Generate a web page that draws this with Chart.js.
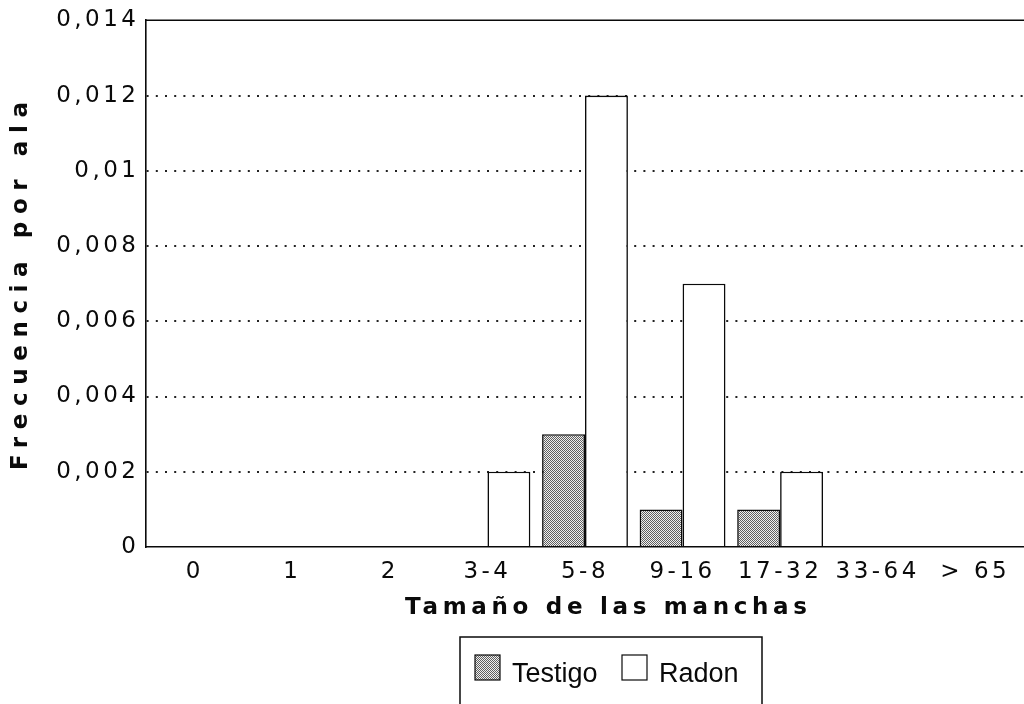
<!DOCTYPE html>
<html>
<head>
<meta charset="utf-8">
<script src="https://cdn.jsdelivr.net/npm/chart.js@4.4.1/dist/chart.umd.min.js"></script>
<style>
html,body{margin:0;padding:0;background:#fff;}
#wrap{width:1024px;height:704px;}
canvas{display:block;}
</style>
</head>
<body>
<div id="wrap"><canvas id="c" width="1024" height="704"></canvas></div>
<script>
// ---- data ----
const categories = ['0', '1', '2', '3-4', '5-8', '9-16', '17-32', '33-64', '> 65'];
const testigo = [0, 0, 0, 0, 0.003, 0.001, 0.001, 0, 0];
const radon   = [0, 0, 0, 0.002, 0.012, 0.007, 0.002, 0, 0];
const seriesNames = ['Testigo', 'Radon'];
const yMin = 0, yMax = 0.014, yStep = 0.002;
const xTitle = 'Tamaño de las manchas';
const yTitle = 'Frecuencia por ala';

const FONT = '"DejaVu Sans", "Liberation Sans", Arial, sans-serif';
const LEGEND_FONT = '"Liberation Sans", Arial, Helvetica, sans-serif';
const INK = '#0a0a0a';
const TICK_LS = 3.5;

function fmt(v) {
  const n = Number(Number(v).toFixed(4));
  return String(n).replace('.', ',');
}

function makePattern(ctx) {
  const c = document.createElement('canvas');
  c.width = 4; c.height = 4;
  const g = c.getContext('2d');
  g.fillStyle = '#f0f0f0';
  g.fillRect(0, 0, 4, 4);
  g.fillStyle = '#606060';
  for (let y = 0; y < 4; y++) for (let x = 0; x < 4; x++) if ((x + y) % 2 === 0) g.fillRect(x, y, 1, 1);
  return ctx.createPattern(c, 'repeat');
}

const canvas = document.getElementById('c');
const ctx2d = canvas.getContext('2d');
const hatch = makePattern(ctx2d);

// draw text spread so that it spans a given width, centred on (cx, cy)
function spreadText(ctx, text, cx, cy, targetW) {
  ctx.letterSpacing = '0px';
  const nat = ctx.measureText(text).width;
  const ls = Math.max(0, (targetW - nat) / (text.length - 1));
  ctx.letterSpacing = ls + 'px';
  const w = ctx.measureText(text).width - ls;
  ctx.fillText(text, cx - w / 2, cy);
}

const decor = {
  id: 'decor',
  beforeDraw(chart) {
    chart.ctx.letterSpacing = TICK_LS + 'px';
  },
  afterDraw(chart) {
    const ctx = chart.ctx;
    const a = chart.chartArea;
    ctx.save();
    ctx.letterSpacing = '0px';
    // top frame line
    ctx.strokeStyle = INK;
    ctx.lineWidth = 1.6;
    ctx.setLineDash([]);
    ctx.beginPath();
    ctx.moveTo(a.left, a.top);
    ctx.lineTo(a.right, a.top);
    ctx.stroke();

    ctx.fillStyle = INK;
    ctx.textAlign = 'left';
    ctx.textBaseline = 'middle';

    // x title
    ctx.font = 'bold 23px ' + FONT;
    spreadText(ctx, xTitle, 606, 608, 402);

    // y title
    ctx.save();
    ctx.translate(21, 286);
    ctx.rotate(-Math.PI / 2);
    spreadText(ctx, yTitle, 0, 0, 368);
    ctx.restore();

    // legend box
    ctx.letterSpacing = '0px';
    ctx.lineWidth = 1.5;
    ctx.strokeStyle = INK;
    ctx.strokeRect(460, 637, 302, 80);
    ctx.font = '27px ' + LEGEND_FONT;
    ctx.textBaseline = 'alphabetic';
    const ds = chart.data.datasets;
    const items = [{x: 475, tx: 512}, {x: 622, tx: 659}];
    ds.forEach((d, i) => {
      const it = items[i];
      ctx.fillStyle = d.backgroundColor;
      ctx.fillRect(it.x, 655, 25, 25);
      ctx.strokeStyle = INK;
      ctx.lineWidth = 1.2;
      ctx.strokeRect(it.x, 655, 25, 25);
      ctx.fillStyle = INK;
      ctx.fillText(d.label, it.tx, 682);
    });
    ctx.restore();
  }
};

new Chart(ctx2d, {
  type: 'bar',
  data: {
    labels: categories,
    datasets: [
      { label: seriesNames[0], data: testigo, backgroundColor: hatch, borderColor: INK, borderWidth: 1.6 },
      { label: seriesNames[1], data: radon, backgroundColor: '#ffffff', borderColor: INK, borderWidth: 1.6 }
    ]
  },
  options: {
    responsive: false,
    animation: false,
    devicePixelRatio: 1,
    layout: { padding: { left: 0, right: 0, top: 20, bottom: 0 } },
    datasets: { bar: { categoryPercentage: 0.88, barPercentage: 1.0 } },
    plugins: { legend: { display: false }, tooltip: { enabled: false }, title: { display: false } },
    scales: {
      x: {
        grid: { display: false, drawTicks: false },
        border: { display: true, color: INK, width: 1.6 },
        ticks: { color: INK, font: { family: FONT, size: 23 }, padding: 11, maxRotation: 0, autoSkip: false },
        afterFit: s => { s.height = 157; }
      },
      y: {
        min: yMin, max: yMax,
        ticks: { stepSize: yStep, color: INK, font: { family: FONT, size: 23 }, padding: 6.5, callback: v => fmt(v) },
        grid: {
          drawTicks: false,
          lineWidth: 2,
          color: c => (c.tick && (Math.abs(c.tick.value - yMin) < 1e-9 || Math.abs(c.tick.value - yMax) < 1e-9)) ? 'rgba(0,0,0,0)' : '#222'
        },
        border: { display: true, color: INK, width: 1.6, dash: [2, 7.2] },
        afterFit: s => { s.width = 146; }
      }
    }
  },
  plugins: [decor]
});
</script>
</body>
</html>
